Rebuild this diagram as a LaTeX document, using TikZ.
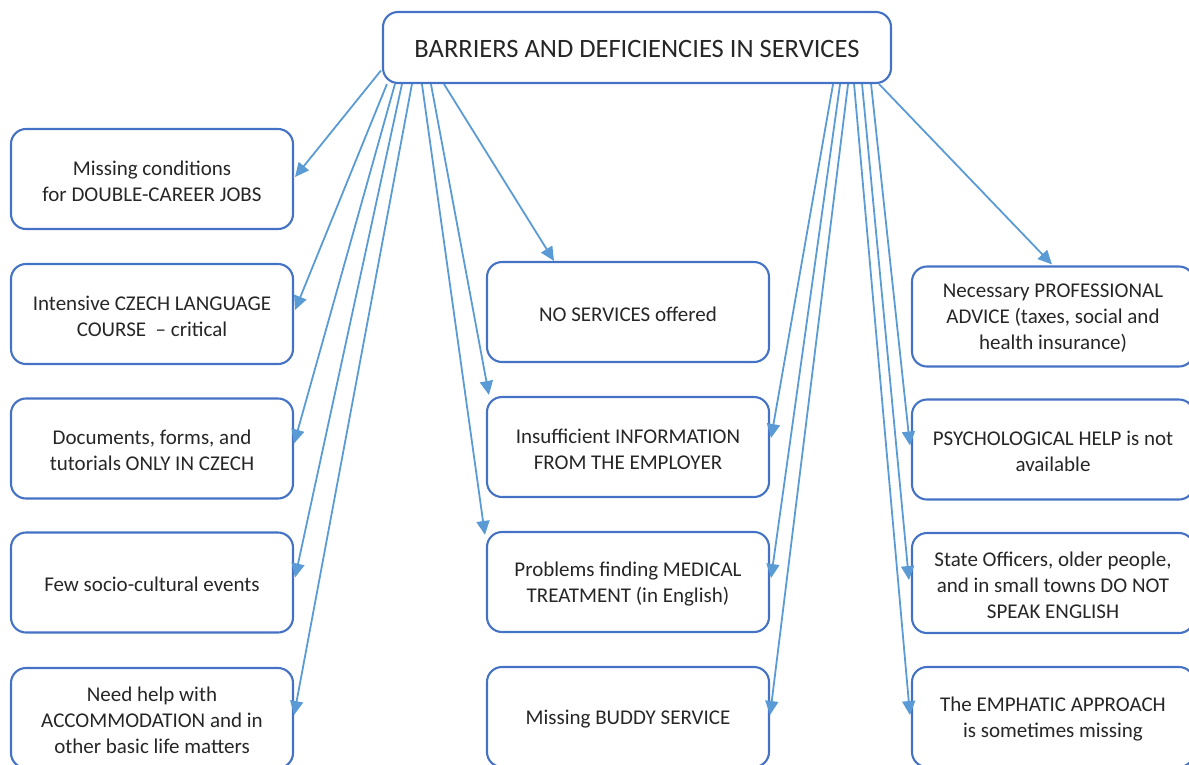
\documentclass[tikz,border=0pt]{standalone}
\usepackage{fontspec}
\setmainfont{Carlito}
\usetikzlibrary{arrows.meta,calc}
\definecolor{boxblue}{HTML}{4472C4}
\definecolor{arrblue}{HTML}{5B9BD5}
\definecolor{txt}{HTML}{262626}
\newcommand\mybox[3]{%
  \node[box] (#1) at (#2) {};
  \node[btext] (#1t) at ($(#1)+(0,2)$) {#3};}
\begin{document}
\begin{tikzpicture}[x=1pt,y=-1pt,
  box/.style={draw=boxblue, line width=2.1pt, rounded corners=15pt, minimum width=282pt, minimum height=100pt, inner sep=0pt},
  btext/.style={align=center, text=txt, font=\fontsize{21}{26}\selectfont, inner sep=0pt},
  arr/.style={draw=arrblue, line width=1.8pt, -{Triangle[length=14pt,width=13pt]}}]
\useasboundingbox (0,0) rectangle (1189,764);
\clip (0,0) rectangle (1189,764);

\node[box, minimum width=508pt, minimum height=71pt] (top) at (637,47.5) {};
\node[btext, font=\fontsize{26.5}{32}\selectfont] (topt) at ($(top)+(0,1)$) {BARRIERS AND DEFICIENCIES IN SERVICES};

\mybox{l1}{152,179}{Missing conditions\\for DOUBLE-CAREER JOBS}
\mybox{l2}{152,314}{Intensive CZECH LANGUAGE\\COURSE \ – critical}
\mybox{l3}{152,448.5}{Documents, forms, and\\tutorials ONLY IN CZECH}
\mybox{l4}{152,582.5}{Few socio-cultural events}
\mybox{l5}{152,718}{Need help with\\ACCOMMODATION and in\\other basic life matters}

\mybox{m1}{628,312}{NO SERVICES offered}
\mybox{m2}{628,447}{Insufficient INFORMATION\\FROM THE EMPLOYER}
\mybox{m3}{628,582}{Problems finding MEDICAL\\TREATMENT (in English)}
\mybox{m4}{628,717}{Missing BUDDY SERVICE}

\mybox{r1}{1053,316.5}{Necessary PROFESSIONAL\\ADVICE (taxes, social and\\health insurance)}
\mybox{r2}{1053,449.5}{PSYCHOLOGICAL HELP is not\\available}
\mybox{r3}{1053,583}{State Officers, older people,\\and in small towns DO NOT\\SPEAK ENGLISH}
\mybox{r4}{1053,717}{The EMPHATIC APPROACH\\is sometimes missing}

% left group
\draw[arr] ($(top.west)+(-1,23)$) -- ($(l1.east)+(1,-2)$);
\draw[arr] ($(top.south west)+(5,0)$) -- ($(l2.east)+(1,-4)$);
\draw[arr] ($(top.south west)+(13,0)$) -- ($(l3.east)+(0,-5)$);
\draw[arr] ($(top.south west)+(20,0)$) -- ($(l4.east)+(1,-5)$);
\draw[arr] ($(top.south west)+(30,0)$) -- ($(l5.east)+(0,-3)$);
\draw[arr] ($(top.south west)+(40,0)$) -- ($(m3.north west)+(-1,4)$);
\draw[arr] ($(top.south west)+(49,0)$) -- ($(m2.north west)+(3,-1)$);
\draw[arr] ($(top.south west)+(62,0)$) -- ($(m1.north)+(-74,0)$);

% right group
\draw[arr] ($(top.south east)+(-59,0)$) -- ($(m2.east)+(1,-9)$);
\draw[arr] ($(top.south east)+(-52,0)$) -- ($(m3.east)+(1,-4)$);
\draw[arr] ($(top.south east)+(-44,0)$) -- ($(m4.east)+(0,-2)$);
\draw[arr] ($(top.south east)+(-38,0)$) -- ($(r4.west)+(-1,-2)$);
\draw[arr] ($(top.south east)+(-30,0)$) -- ($(r3.west)+(-2,-3)$);
\draw[arr] ($(top.south east)+(-21,0)$) -- ($(r2.west)+(-1,-4)$);
\draw[arr] ($(top.south east)+(-13,0)$) -- ($(r1.north)+(-1,-1)$);
\end{tikzpicture}
\end{document}
